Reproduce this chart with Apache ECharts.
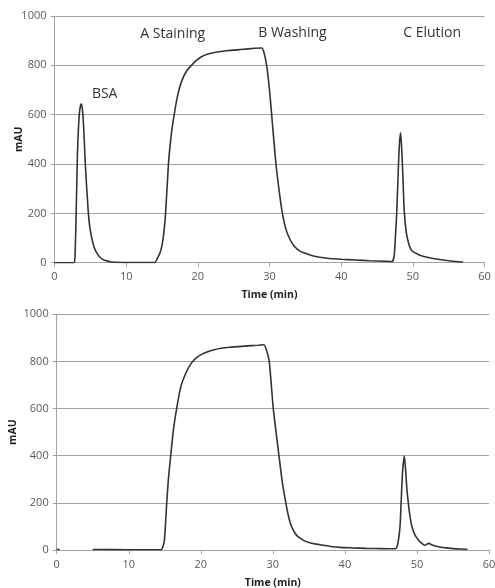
<!DOCTYPE html>
<html>
<head>
<meta charset="utf-8">
<script src="https://cdn.jsdelivr.net/npm/echarts@6/dist/echarts.min.js"></script>
<style>
html,body{margin:0;padding:0;background:#fff;}
#chart{width:495px;height:588px;}
</style>
</head>
<body>
<div id="chart"></div>
<script>
// ---- Data ----
var xTicks = [0, 10, 20, 30, 40, 50, 60];
var yTicks = [0, 200, 400, 600, 800, 1000];

var timeTop = [0, 2.7, 2.85, 3.0, 3.2, 3.45, 3.65, 3.75, 3.9, 4.05, 4.3, 4.7, 5.0, 5.5, 6.0, 6.5, 7.0, 8.0, 10, 12, 14.0, 14.3, 14.7, 15.0, 15.25, 15.5, 15.9, 16.3, 16.7, 17.2, 17.8, 18.5, 19.2, 19.8, 20.5, 21.3, 22.5, 24, 26, 28, 28.9, 29.2, 29.6, 30.0, 30.3, 30.9, 31.4, 31.8, 32.3, 32.9, 33.5, 34.2, 35.0, 36, 37, 38, 40, 42, 44, 46, 47.1, 47.4, 47.6, 47.75, 48.0, 48.15, 48.3, 48.45, 48.6, 48.8, 49.1, 49.5, 49.85, 50.2, 50.6, 51.0, 52, 53, 54, 55, 56, 57];
var mAUTop = [0, 0, 20, 170, 440, 600, 640, 643, 620, 560, 400, 210, 130, 65, 35, 18, 10, 3, 1, 1, 1, 15, 38, 70, 120, 200, 400, 520, 600, 680, 740, 780, 803, 820, 835, 845, 853, 859, 864, 869, 870, 855, 800, 700, 600, 400, 280, 200, 135, 92, 66, 48, 38, 28, 22, 18, 14, 11, 8, 6, 5, 30, 120, 200, 400, 490, 527, 460, 360, 210, 120, 70, 49, 42, 36, 30, 22, 16, 12, 8, 5, 3];

var timeBottom = [0, 0.4, 0.5, 5.0, 10, 14.5, 14.75, 14.95, 15.1, 15.27, 15.5, 15.82, 16.2, 16.65, 17.2, 18.0, 18.74, 19.5, 20.5, 22, 24, 26, 28, 28.75, 29.1, 29.5, 30.06, 30.85, 31.3, 31.8, 32.2, 32.6, 33.3, 34.2, 35, 36, 37, 38, 39.3, 41, 43, 45, 47.0, 47.3, 47.65, 47.8, 48.0, 48.25, 48.45, 48.6, 48.8, 49.05, 49.3, 49.7, 50.2, 50.6, 51.1, 51.4, 51.7, 52.0, 52.5, 53.0, 54, 55, 56, 57];
var mAUBottom = [2, 2, null, 2, 1, 1, 15, 42, 110, 200, 300, 400, 510, 600, 690, 755, 795, 818, 836, 851, 860, 865, 869, 871, 850, 800, 600, 400, 290, 200, 140, 99, 62, 42, 32, 25, 20, 15, 11, 9, 7, 6, 5, 20, 100, 200, 330, 399, 330, 260, 200, 140, 100, 65, 42, 30, 20, 25, 28, 22, 17, 14, 9, 6, 4, 3];

var annoText = ['BSA', 'A Staining', 'B Washing', 'C Elution'];
var annoX = [7, 16.5, 33.2, 52.7];
var annoY = [682, 927, 930, 930];

// ---- Build ----
function pairs(t, v) {
  return t.map(function (x, i) { return [x, v[i] === null ? '-' : v[i]]; });
}
var FONT = 'Open Sans';
var gridCol = '#a3a3a3';
function xAxis(idx, gap) {
  return {
    type: 'value', gridIndex: idx, min: 0, max: 60, interval: 10,
    name: 'Time (min)', nameLocation: 'middle', nameGap: gap, nameMoveOverlap: false,
    nameTextStyle: {fontFamily: FONT, fontSize: 10.5, fontWeight: 'bold', color: '#222'},
    axisLine: {show: true, lineStyle: {color: gridCol, width: 1}},
    axisTick: {show: true, length: 4, lineStyle: {color: gridCol}},
    axisLabel: {fontFamily: FONT, fontSize: 11, color: '#595959', margin: 9, formatter: function (v) { return String(v); }},
    splitLine: {show: false}
  };
}
function yAxis(idx, gap) {
  return {
    type: 'value', gridIndex: idx, min: 0, max: 1000, interval: 200,
    name: 'mAU', nameLocation: 'middle', nameGap: gap, nameRotate: 90, nameMoveOverlap: false,
    nameTextStyle: {fontFamily: FONT, fontSize: 10.5, fontWeight: 'bold', color: '#222'},
    axisLine: {show: true, lineStyle: {color: gridCol, width: 1}},
    axisTick: {show: true, length: 4, lineStyle: {color: gridCol}},
    axisLabel: {fontFamily: FONT, fontSize: 11, color: '#595959', margin: 8, formatter: function (v) { return String(v); }},
    splitLine: {show: true, lineStyle: {color: gridCol, width: 1}}
  };
}

var chart = echarts.init(document.getElementById('chart'), null, {renderer: 'canvas'});
chart.setOption({
  backgroundColor: '#ffffff',
  animation: false,
  grid: [
    {left: 54.5, top: 16, width: 430, height: 246.7, containLabel: false, outerBoundsMode: 'none'},
    {left: 56.7, top: 314.3, width: 432.3, height: 235.7, containLabel: false, outerBoundsMode: 'none'}
  ],
  xAxis: [xAxis(0, 27), xAxis(1, 27.5)],
  yAxis: [yAxis(0, 29.5), yAxis(1, 38)],
  series: [
    {
      type: 'line', xAxisIndex: 0, yAxisIndex: 0,
      data: pairs(timeTop, mAUTop),
      showSymbol: false, smooth: 0.2,
      lineStyle: {color: '#333333', width: 1.6},
      markPoint: {
        symbol: 'rect', symbolSize: 0,
        label: {show: true, fontFamily: FONT, fontSize: 14, color: '#333', position: 'inside'},
        data: annoText.map(function (s, i) { return {coord: [annoX[i], annoY[i]], value: s}; })
      }
    },
    {
      type: 'line', xAxisIndex: 1, yAxisIndex: 1,
      data: pairs(timeBottom, mAUBottom),
      showSymbol: false, smooth: 0.2, connectNulls: false,
      lineStyle: {color: '#333333', width: 1.6}
    }
  ]
});
</script>
</body>
</html>
